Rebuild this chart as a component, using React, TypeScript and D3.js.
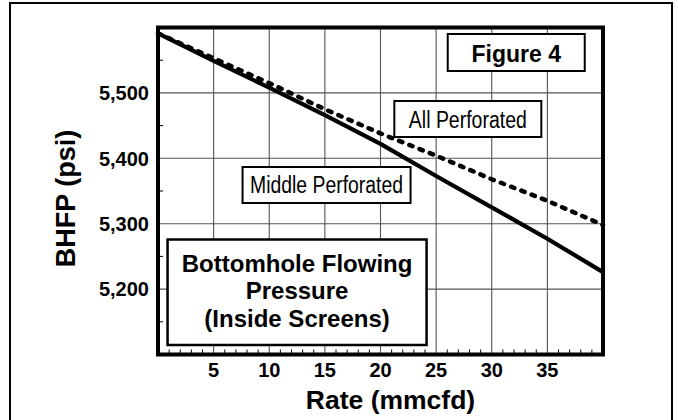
import * as d3 from "d3";

const rate = [0, 5, 10, 15, 20, 25, 30, 35, 40];
const middlePerf = [5591, 5549, 5508, 5466, 5422, 5373, 5325, 5277, 5226];
const allPerf = [5591, 5553, 5515, 5475, 5438, 5404, 5368, 5335, 5298];
const xTicks = [5, 10, 15, 20, 25, 30, 35];
const yTicks = [5200, 5300, 5400, 5500];
const titleLines = ["Bottomhole Flowing", "Pressure", "(Inside Screens)"];

const W = 678;
const H = 420;
const plot = { left: 158, top: 27.5, right: 603, bottom: 354.5 };
const font = "'Liberation Sans', Arial, Helvetica, sans-serif";

export default function App() {
  const x = d3.scaleLinear().domain([0, 40]).range([plot.left, plot.right]);
  const y = d3.scaleLinear().domain([5100, 5600]).range([plot.bottom, plot.top]);

  const line = d3
    .line<number>()
    .x((_, i) => x(rate[i]))
    .y((d) => y(d));

  const minorX = d3.range(1, 40).filter((v) => v % 5 !== 0);
  const minorY = d3.range(5150, 5600, 100);

  // boxed labels: centre on the rate axis, top in px
  const box = (cx: number, top: number, w: number, h: number) => ({
    x: x(cx) - w / 2,
    y: top,
    w,
    h,
  });
  const fig = box(32.2, 34, 137, 37);
  const all = box(27.85, 101, 147, 36);
  const mid = box(15.15, 167, 168, 36);
  const bh = box(12.5, 239.5, 259, 105.5);

  return (
    <svg
      width={W}
      height={H}
      style={{ position: "absolute", left: 0, top: 0, background: "#fff" }}
      fontFamily={font}
    >
      <rect x={10} y={3} width={662} height={430} fill="#fff" stroke="#000" strokeWidth={2} />

      {/* grid */}
      <g stroke="#555" strokeWidth={1.1}>
        {xTicks.map((t) => (
          <line key={"gx" + t} x1={x(t)} x2={x(t)} y1={plot.top} y2={plot.bottom} />
        ))}
        {yTicks.map((t) => (
          <line key={"gy" + t} x1={plot.left} x2={plot.right} y1={y(t)} y2={y(t)} />
        ))}
      </g>
      <g stroke="#000" strokeWidth={1}>
        {minorX.map((t) => (
          <line key={"mx" + t} x1={x(t)} x2={x(t)} y1={plot.bottom} y2={plot.bottom - 5} />
        ))}
        {minorY.map((t) => (
          <line key={"my" + t} x1={plot.left} x2={plot.left + 5} y1={y(t)} y2={y(t)} />
        ))}
      </g>

      {/* series */}
      <path
        d={line(allPerf) ?? ""}
        fill="none"
        stroke="#000"
        strokeWidth={4.5}
        strokeLinecap="round"
        strokeDasharray="3.5 7.5"
      />
      <path d={line(middlePerf) ?? ""} fill="none" stroke="#000" strokeWidth={4.2} />

      {/* labels */}
      <rect x={fig.x} y={fig.y} width={fig.w} height={fig.h} fill="#fff" stroke="#000" strokeWidth={2} />
      <text x={fig.x + fig.w / 2} y={61.5} textAnchor="middle" fontSize={23} fontWeight="bold">
        Figure 4
      </text>

      <rect x={all.x} y={all.y} width={all.w} height={all.h} fill="#fff" stroke="#000" strokeWidth={2} />
      <text
        x={all.x + all.w / 2}
        y={128}
        textAnchor="middle"
        fontSize={23}
        textLength={118}
        lengthAdjust="spacingAndGlyphs"
      >
        All Perforated
      </text>

      <rect x={mid.x} y={mid.y} width={mid.w} height={mid.h} fill="#fff" stroke="#000" strokeWidth={2} />
      <text
        x={mid.x + mid.w / 2}
        y={193}
        textAnchor="middle"
        fontSize={23}
        textLength={153}
        lengthAdjust="spacingAndGlyphs"
      >
        Middle Perforated
      </text>

      <rect x={bh.x} y={bh.y} width={bh.w} height={bh.h} fill="#fff" stroke="#000" strokeWidth={2.5} />
      {titleLines.map((t, i) => (
        <text key={t} x={bh.x + bh.w / 2} y={271.5 + i * 27.5} textAnchor="middle" fontSize={24} fontWeight="bold">
          {t}
        </text>
      ))}

      {/* frame */}
      <rect
        x={plot.left}
        y={plot.top}
        width={plot.right - plot.left}
        height={plot.bottom - plot.top}
        fill="none"
        stroke="#000"
        strokeWidth={4}
      />

      {/* tick labels */}
      {xTicks.map((t) => (
        <text key={"xl" + t} x={x(t)} y={377} textAnchor="middle" fontSize={20} fontWeight="bold">
          {t}
        </text>
      ))}
      {yTicks.map((t) => (
        <text key={"yl" + t} x={149} y={y(t) + 7.2} textAnchor="end" fontSize={20} fontWeight="bold">
          {d3.format(",")(t)}
        </text>
      ))}

      <text x={390.5} y={409} textAnchor="middle" fontSize={26.5} fontWeight="bold">
        Rate (mmcfd)
      </text>
      <text transform="translate(75,198.5) rotate(-90)" textAnchor="middle" fontSize={27} fontWeight="bold">
        BHFP (psi)
      </text>
    </svg>
  );
}
